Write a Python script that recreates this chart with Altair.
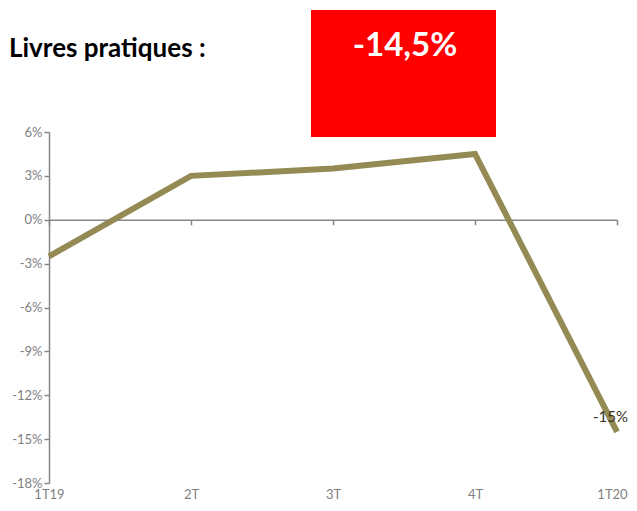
import altair as alt
import pandas as pd

quarters = ["1T19", "2T", "3T", "4T", "1T20"]
values = [-2.5, 3.0, 3.5, 4.5, -14.5]
point_labels = ["", "", "", "", "-15%"]
y_ticks = [6, 3, 0, -3, -6, -9, -12, -15, -18]
title_text = "Livres pratiques :"
badge_text = "-14,5%"

df = pd.DataFrame({"q": quarters, "v": values, "lab": point_labels})

W, H = 568, 351
zero_from_bottom = H * 18 / 24

x_enc = alt.X(
    "q:N", sort=quarters, title=None,
    scale=alt.Scale(type="point", padding=0),
    axis=alt.Axis(
        orient="bottom", offset=-zero_from_bottom, domainColor="#868686", domainWidth=1.5,
        tickColor="#868686", tickSize=5, tickWidth=1.5, labelAngle=0,
        labelPadding=264, labelBaseline="top", labelFont="Lato", labelFontSize=13,
        labelColor="#7f7f7f", grid=False,
        labelOffset={"condition": {"test": "datum.label == '1T20'", "value": -5}, "value": 0},
    ),
)
y_enc = alt.Y(
    "v:Q", title=None,
    scale=alt.Scale(domain=[-18, 6], nice=False, zero=False),
    axis=alt.Axis(
        values=y_ticks, labelExpr="datum.value + '%'", domainColor="#868686", domainWidth=1.5,
        tickColor="#868686", tickSize=5, tickWidth=1.5, labelPadding=2,
        labelFont="Lato", labelFontSize=13, labelColor="#7f7f7f", grid=False,
    ),
)

base = alt.Chart(df)
line = base.mark_line(color="#948A54", strokeWidth=6, strokeJoin="miter").encode(x=x_enc, y=y_enc)
labels = base.mark_text(
    font="Lato", fontSize=15, color="#36331f", baseline="alphabetic", align="right", dy=-10, dx=11
).encode(x=alt.X("q:N", sort=quarters), y="v:Q", text="lab:N")

one = pd.DataFrame({"t": [title_text], "b": [badge_text]})
title = alt.Chart(one).mark_text(
    font="Lato", fontSize=26, fontWeight="bold", color="#000000", align="left", baseline="alphabetic"
).encode(text="t:N", x=alt.value(-40), y=alt.value(-75))
box = alt.Chart(one).mark_rect(color="#ff0000").encode(
    x=alt.value(262), x2=alt.value(447), y=alt.value(-122), y2=alt.value(5)
)
badge = alt.Chart(one).mark_text(
    font="Lato", fontSize=33, fontWeight="bold", color="#ffffff", align="center", baseline="alphabetic"
).encode(text="b:N", x=alt.value(356), y=alt.value(-76))

chart = alt.layer(line, labels, box, badge, title).properties(
    width=W, height=H,
    padding={"left": 41, "top": 124, "right": 12, "bottom": 20},
    autosize=alt.AutoSizeParams(type="none"),
).configure_view(stroke=None)

chart.save("out.html", embed_options={"renderer": "svg", "actions": False})
